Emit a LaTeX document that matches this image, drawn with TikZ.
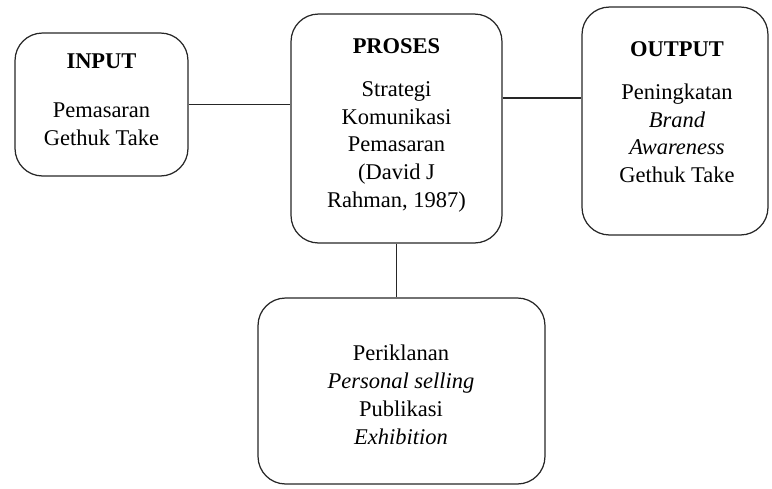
\documentclass[tikz,border=0pt]{standalone}
\usepackage{fontspec}
\setmainfont{Liberation Serif}
\usetikzlibrary{calc}
\begin{document}
\begin{tikzpicture}
  [ x=0.02cm, y=-0.02cm,
    box/.style={draw=black!85, line width=0.7pt, rounded corners=0.55cm,
    inner sep=0pt},
    txt/.style={align=center, inner sep=0pt,
    font=\fontsize{12.8}{15.9}\selectfont},
    ln/.style={draw=black!85, line width=0.6pt}
  ]
  \useasboundingbox (0,0) rectangle (772,488);
  \node (inp) at (101.5,104.5) [box, minimum width=3.46cm, minimum height=2.86cm] {};
  \node (pro) at (396.5,128.5) [box, minimum width=4.22cm, minimum height=4.58cm] {};
  \node (out) at (675,121)     [box, minimum width=3.72cm, minimum height=4.56cm] {};
  \node (act) at (401.5,391)   [box, minimum width=5.74cm, minimum height=3.72cm] {};

  \node (inp-t) at (101.5,53) [txt, anchor=north]
    {\textbf{INPUT}\\[12pt] Pemasaran\\ Gethuk Take};
  \node (pro-t) at (396.5,38) [txt, anchor=north]
    {\textbf{PROSES}\\[8.5pt] Strategi\\ Komunikasi\\ Pemasaran\\ (David J\\ Rahman, 1987)};
  \node (out-t) at (677,41) [txt, anchor=north]
    {\textbf{OUTPUT}\\[8.5pt] Peningkatan\\ \textit{Brand}\\ \textit{Awareness}\\ Gethuk Take};
  \node (act-t) at (401,395) [txt]
    {Periklanan\\ \textit{Personal selling}\\ Publikasi\\ \textit{Exhibition}};

  \coordinate (po) at ($(out.west)+(0,-23)$);
  \draw [ln] (inp.east) -- (pro.west |- inp.east);
  \draw [ln] (pro.east |- po) -- (po);
  \draw [ln] (pro.south) -- (pro.south |- act.north);
\end{tikzpicture}
\end{document}
